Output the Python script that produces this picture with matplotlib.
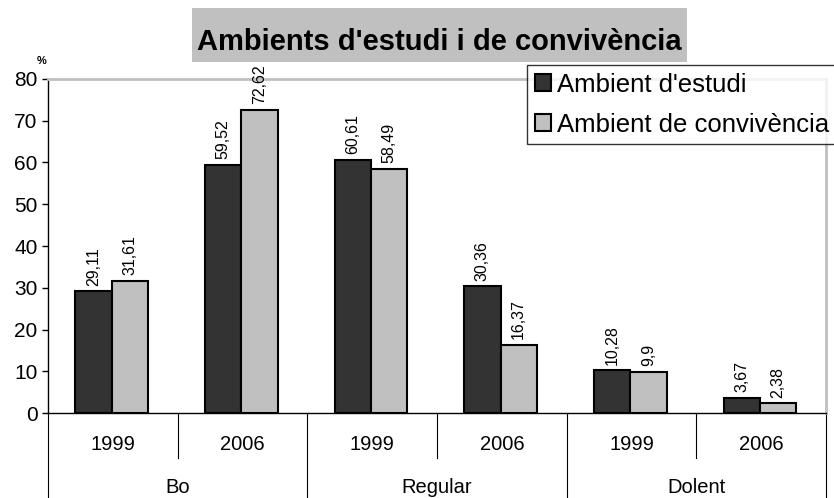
import matplotlib
matplotlib.use("Agg")
import matplotlib.pyplot as plt
import matplotlib.transforms as mtransforms
from matplotlib.patches import Patch, Rectangle

plt.rcParams['font.family'] = ['Liberation Sans', 'DejaVu Sans']

groups = ["Bo", "Regular", "Dolent"]
years = ["1999", "2006"]
series_names = ["Ambient d'estudi", "Ambient de convivència"]
estudi = [29.11, 59.52, 60.61, 30.36, 10.28, 3.67]
convivencia = [31.61, 72.62, 58.49, 16.37, 9.9, 2.38]
colors = ["#333333", "#c0c0c0"]

W, H = 834, 498
fig = plt.figure(figsize=(W / 100, H / 100), dpi=100)
L, R, T, B = 48, 826, 79, 413
ax = fig.add_axes([L / W, 1 - B / H, (R - L) / W, (B - T) / H])

n = len(estudi)
xs = [i + 0.49 for i in range(n)]
bw = 0.28
for vals, off, col in [(estudi, -bw / 2, colors[0]), (convivencia, bw / 2, colors[1])]:
    bars = ax.bar([x + off for x in xs], vals, width=bw, color=col,
                  edgecolor="black", linewidth=1.5, zorder=3)
    for b, v in zip(bars, vals):
        lab = ("%g" % v).replace(".", ",")
        ax.annotate(lab, (b.get_x() + b.get_width() / 2, v), xytext=(0, 4),
                    textcoords="offset points", rotation=90, ha="center",
                    va="bottom", fontsize=11.5)

ax.set_xlim(0, n)
ax.set_ylim(0, 80)
ax.set_yticks(range(0, 81, 10))
ax.tick_params(axis="y", labelsize=15, length=4.5, width=1, direction="out", pad=3)
ax.set_xticks([])
for s in ["top", "right"]:
    ax.spines[s].set_color("#c0c0c0")
    ax.spines[s].set_linewidth(2)
for s in ["left", "bottom"]:
    ax.spines[s].set_color("black")
    ax.spines[s].set_linewidth(1)

trans = mtransforms.blended_transform_factory(ax.transData, ax.transAxes)
h = B - T
short = (B - 458) / h
full = (B - H) / h
for i in range(n + 1):
    y1 = full if i % 2 == 0 else short
    ax.plot([i, i], [0, y1], transform=trans, color="black", lw=0.8,
            clip_on=False)
for i in range(n):
    ax.text(i + 0.5, (B - 444) / h, years[i % 2], transform=trans,
            ha="center", va="center", fontsize=14.5)
for g, name in enumerate(groups):
    ax.text(2 * g + 1, (B - 487) / h, name, transform=trans,
            ha="center", va="center", fontsize=14.5)

fig.text(42 / W, 1 - 61 / H, "%", fontsize=8, fontweight="bold",
         ha="center", va="center")

fig.patches.append(Rectangle((192 / W, 1 - 62 / H), (687 - 192) / W, 54 / H,
                             transform=fig.transFigure, facecolor="#c0c0c0",
                             edgecolor="none", zorder=0))
fig.text((192 + 687) / 2 / W, 1 - 50 / H, "Ambients d'estudi i de convivència",
         ha="center", va="baseline", fontsize=21, fontweight="bold")

handles = [Patch(facecolor=c, edgecolor="black", linewidth=1.5) for c in colors]
leg = fig.legend(handles, series_names, loc="upper left",
                 bbox_to_anchor=(527 / W, 1 - 65 / H), fontsize=18.5,
                 frameon=True, fancybox=False, edgecolor="black",
                 handlelength=0.65, handleheight=0.65, handletextpad=0.2,
                 borderpad=0.3, labelspacing=0.62, borderaxespad=0)
leg.get_frame().set_linewidth(1)

fig.savefig("out.png", dpi=100)
